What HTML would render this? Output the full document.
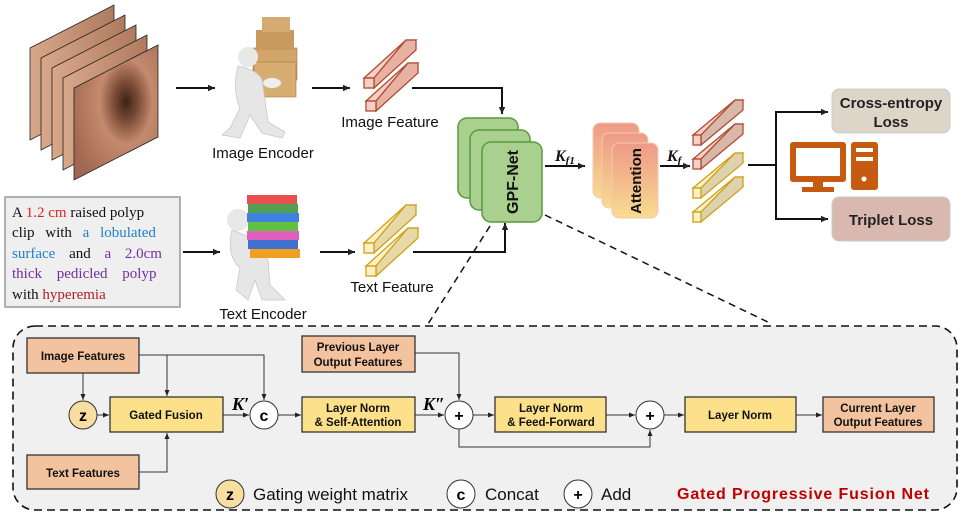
<!DOCTYPE html>
<html><head><meta charset="utf-8"><style>
html,body{margin:0;padding:0;background:#fff;}
svg{display:block;font-family:"Liberation Sans",Arial,sans-serif;}
.bx{stroke:#333;stroke-width:1.3;}
.ln{stroke:#333;stroke-width:1;fill:none;}
.tl{font-weight:bold;font-size:11.5px;fill:#111;text-anchor:middle;}
</style></head><body>
<svg width="970" height="514" viewBox="0 0 970 514" xmlns="http://www.w3.org/2000/svg">
<defs>
<marker id="a" markerWidth="8" markerHeight="8" refX="7" refY="4" orient="auto" markerUnits="userSpaceOnUse"><path d="M0,0.8 L7,4 L0,7.2z" fill="#222"/></marker>
<marker id="s" markerWidth="6" markerHeight="6" refX="6" refY="3" orient="auto" markerUnits="userSpaceOnUse"><path d="M0,0.5 L6,3 L0,5.5z" fill="#222"/></marker>
<radialGradient id="endo" cx="0.62" cy="0.42" r="0.7"><stop offset="0" stop-color="#3a2418"/><stop offset="0.2" stop-color="#7a4a35"/><stop offset="0.45" stop-color="#c48a6e"/><stop offset="1" stop-color="#a06850"/></radialGradient>
<linearGradient id="edge" x1="0" y1="0" x2="1" y2="0"><stop offset="0" stop-color="#d8a88a"/><stop offset="1" stop-color="#b07a5e"/></linearGradient>
<linearGradient id="att" x1="0" y1="0" x2="0" y2="1"><stop offset="0" stop-color="#ee9a88"/><stop offset="1" stop-color="#f8dc90"/></linearGradient>
</defs>

<!-- endoscopy stack -->
<g stroke="#222" stroke-width="0.8">
<polygon points="30,48 114,5 114,97 30,140" fill="url(#edge)"/>
<polygon points="41,58 125,15 125,107 41,150" fill="url(#edge)"/>
<polygon points="52,68 136,25 136,117 52,160" fill="url(#edge)"/>
<polygon points="63,78 147,35 147,127 63,170" fill="url(#edge)"/>
<polygon points="74,88 158,45 158,137 74,180" fill="url(#endo)"/>
</g>

<line x1="176" y1="88" x2="215" y2="88" stroke="#111" stroke-width="2" marker-end="url(#a)"/>

<!-- image encoder figure -->
<g>
<rect x="253" y="48" width="44" height="32" fill="#d2a56a" stroke="#a57a45" stroke-width="0.6"/>
<rect x="256" y="30" width="38" height="20" fill="#c99a5e"/>
<rect x="262" y="17" width="28" height="15" fill="#d4aa70"/>
<rect x="254" y="62" width="42" height="35" fill="#d8ad72" stroke="#a57a45" stroke-width="0.6"/>
<circle cx="248" cy="57" r="10" fill="#e8e8e8"/>
<path d="M238,66 Q232,90 240,108 L230,128 L222,135 L240,138 L250,115 L262,133 L282,138 L285,132 L268,122 L265,100 L262,80 Q258,70 238,66z" fill="#e6e6e6" stroke="#c8c8c8" stroke-width="0.8"/>
<ellipse cx="272" cy="83" rx="9" ry="5" fill="#eee"/>
</g>
<text x="263" y="158" font-size="15" text-anchor="middle" fill="#111">Image Encoder</text>

<line x1="312" y1="88" x2="350" y2="88" stroke="#111" stroke-width="2" marker-end="url(#a)"/>

<g stroke="#b04a30" stroke-width="1.3" fill="#f6d0c4">
<polygon points="364,78 406,40 416,40 374,78"/><polygon points="406,40 416,40 416,50 374,88 374,78" fill="#e8b2a2"/><rect x="364" y="78" width="10" height="10"/>
<polygon points="366,101 408,63 418,63 376,101"/><polygon points="408,63 418,63 418,73 376,111 376,101" fill="#e8b2a2"/><rect x="366" y="101" width="10" height="10"/>
</g>
<text x="390" y="127" font-size="15" text-anchor="middle" fill="#111">Image Feature</text>

<polyline points="412,88 502,88 502,114" fill="none" stroke="#111" stroke-width="2" marker-end="url(#a)"/>

<!-- text box -->
<rect x="5" y="197" width="175" height="110" fill="#efefef" stroke="#999" stroke-width="1.5"/>
<g font-family="Liberation Serif,serif" font-size="15" fill="#111">
<text x="12" y="217">A <tspan fill="#e02020">1.2 cm</tspan> raised polyp</text>
<text x="12" y="237" word-spacing="7">clip with <tspan fill="#2080d0">a lobulated</tspan></text>
<text x="12" y="258" word-spacing="10"><tspan fill="#2080d0">surface</tspan> and <tspan fill="#7030a0">a 2.0cm</tspan></text>
<text x="12" y="278" word-spacing="11" fill="#7030a0">thick pedicled polyp</text>
<text x="12" y="299">with <tspan fill="#b02020">hyperemia</tspan></text>
</g>

<line x1="183" y1="252" x2="220" y2="252" stroke="#111" stroke-width="2" marker-end="url(#a)"/>

<g>
<circle cx="238" cy="220" r="11" fill="#e8e8e8"/>
<path d="M232,230 Q226,255 240,268 L236,290 L248,300 L255,280 L262,300 L285,300 L270,285 L268,260 Q262,240 232,230z" fill="#e6e6e6" stroke="#c8c8c8" stroke-width="0.8"/>
<rect x="247" y="195" width="50" height="9" fill="#e85050"/>
<rect x="248" y="204" width="50" height="9" fill="#50a050"/>
<rect x="247" y="213" width="52" height="9" fill="#4080e0"/>
<rect x="248" y="222" width="50" height="9" fill="#60c040"/>
<rect x="247" y="231" width="52" height="9" fill="#e060c0"/>
<rect x="248" y="240" width="50" height="9" fill="#4070d0"/>
<rect x="250" y="249" width="50" height="9" fill="#f0a020"/>
</g>
<text x="263" y="319" font-size="15" text-anchor="middle" fill="#111">Text Encoder</text>

<line x1="320" y1="252" x2="355" y2="252" stroke="#111" stroke-width="2" marker-end="url(#a)"/>

<g stroke="#d0a010" stroke-width="1.3" fill="#fbf0c8">
<polygon points="364,243 406,205 416,205 374,243"/><polygon points="406,205 416,205 416,215 374,253 374,243" fill="#e6d8a8"/><rect x="364" y="243" width="10" height="10"/>
<polygon points="366,266 408,228 418,228 376,266"/><polygon points="408,228 418,228 418,238 376,276 376,266" fill="#e6d8a8"/><rect x="366" y="266" width="10" height="10"/>
</g>
<text x="392" y="292" font-size="15" text-anchor="middle" fill="#111">Text Feature</text>

<polyline points="413,252 505,252 505,223" fill="none" stroke="#111" stroke-width="2" marker-end="url(#a)"/>

<g fill="#a9d08e" stroke="#5a9a3a" stroke-width="1.5">
<rect x="458" y="118" width="60" height="80" rx="9"/>
<rect x="470" y="130" width="60" height="80" rx="9"/>
<rect x="482" y="142" width="60" height="80" rx="9"/>
</g>
<text transform="translate(518,182) rotate(-90)" font-size="16" font-weight="bold" text-anchor="middle" fill="#111">GPF-Net</text>

<line x1="545" y1="166" x2="585" y2="166" stroke="#111" stroke-width="2" marker-end="url(#a)"/>
<text x="555" y="161" font-family="Liberation Serif,serif" font-style="italic" font-weight="bold" font-size="16" fill="#111">K<tspan font-size="11" dy="3">f1</tspan></text>

<g fill="url(#att)" stroke="#f4c8b0" stroke-width="1">
<rect x="593" y="123" width="46" height="75" rx="7"/>
<rect x="602" y="133" width="46" height="75" rx="7"/>
<rect x="612" y="143" width="46" height="75" rx="7"/>
</g>
<text transform="translate(641,181) rotate(-90)" font-size="15" font-weight="bold" text-anchor="middle" fill="#111">Attention</text>

<line x1="660" y1="166" x2="690" y2="166" stroke="#111" stroke-width="2" marker-end="url(#a)"/>
<text x="667" y="161" font-family="Liberation Serif,serif" font-style="italic" font-weight="bold" font-size="16" fill="#111">K<tspan font-size="11" dy="3">f</tspan></text>

<g stroke="#b04a30" stroke-width="1.3" fill="#f6d0c4">
<polygon points="693,135 735,100 743,100 701,135"/><polygon points="735,100 743,100 743,110 701,145 701,135" fill="#d8b8a8"/><rect x="693" y="135" width="8" height="10"/>
<polygon points="693,159 735,124 743,124 701,159"/><polygon points="735,124 743,124 743,134 701,169 701,159" fill="#d8b8a8"/><rect x="693" y="159" width="8" height="10"/>
</g>
<g stroke="#d0a010" stroke-width="1.3" fill="#fbf0c8">
<polygon points="693,188 735,153 743,153 701,188"/><polygon points="735,153 743,153 743,163 701,198 701,188" fill="#ddd2b0"/><rect x="693" y="188" width="8" height="10"/>
<polygon points="693,212 735,177 743,177 701,212"/><polygon points="735,177 743,177 743,187 701,222 701,212" fill="#ddd2b0"/><rect x="693" y="212" width="8" height="10"/>
</g>

<line x1="748" y1="165" x2="776" y2="165" stroke="#111" stroke-width="2"/>
<polyline points="823,112 776,112 776,219 823,219" fill="none" stroke="#111" stroke-width="2"/>
<line x1="800" y1="112" x2="828" y2="112" stroke="#111" stroke-width="2" marker-end="url(#a)"/>
<line x1="800" y1="219" x2="828" y2="219" stroke="#111" stroke-width="2" marker-end="url(#a)"/>

<rect x="832" y="89" width="118" height="44" rx="7" fill="#ddd5c7" stroke="#ccc" stroke-width="1"/>
<text x="891" y="108" font-size="15" font-weight="bold" text-anchor="middle" fill="#222">Cross-entropy</text>
<text x="891" y="127" font-size="15" font-weight="bold" text-anchor="middle" fill="#222">Loss</text>
<rect x="832" y="197" width="118" height="44" rx="7" fill="#d9b8b0" stroke="#ccc" stroke-width="1"/>
<text x="891" y="225" font-size="15" font-weight="bold" text-anchor="middle" fill="#222">Triplet Loss</text>

<g fill="#c55a11">
<rect x="790" y="142" width="56" height="40" rx="3"/>
<rect x="796" y="148" width="44" height="28" fill="#fff"/>
<rect x="813" y="182" width="10" height="6"/>
<rect x="802" y="187" width="32" height="5"/>
<rect x="851" y="142" width="27" height="48" rx="3"/>
<rect x="856" y="148" width="17" height="4" fill="#fff"/>
<rect x="856" y="157" width="17" height="4" fill="#fff"/>
<circle cx="864" cy="179" r="2.5" fill="#fff"/>
</g>

<line x1="490" y1="226" x2="428" y2="324" stroke="#111" stroke-width="1.5" stroke-dasharray="7,5"/>
<line x1="545" y1="215" x2="772" y2="324" stroke="#111" stroke-width="1.5" stroke-dasharray="7,5"/>

<rect x="13" y="326" width="944" height="184" rx="22" fill="#f0f0f0" stroke="#111" stroke-width="1.6" stroke-dasharray="8,5"/>

<polyline class="ln" points="139,355 264,355 264,400" marker-end="url(#s)"/>
<line class="ln" x1="167" y1="355" x2="167" y2="396" marker-end="url(#s)"/>
<line class="ln" x1="83" y1="373" x2="83" y2="400" marker-end="url(#s)"/>
<line class="ln" x1="97" y1="415" x2="109" y2="415" marker-end="url(#s)"/>
<polyline class="ln" points="139,472 167,472 167,433" marker-end="url(#s)"/>
<line class="ln" x1="223" y1="415" x2="249" y2="415" marker-end="url(#s)"/>
<line class="ln" x1="278" y1="415" x2="301" y2="415" marker-end="url(#s)"/>
<line class="ln" x1="415" y1="415" x2="444" y2="415" marker-end="url(#s)"/>
<polyline class="ln" points="415,353 459,353 459,400" marker-end="url(#s)"/>
<line class="ln" x1="473" y1="415" x2="494" y2="415" marker-end="url(#s)"/>
<line class="ln" x1="606" y1="415" x2="635" y2="415" marker-end="url(#s)"/>
<polyline class="ln" points="459,429 459,447 650,447 650,430" marker-end="url(#s)"/>
<line class="ln" x1="664" y1="415" x2="684" y2="415" marker-end="url(#s)"/>
<line class="ln" x1="796" y1="415" x2="822" y2="415" marker-end="url(#s)"/>

<rect class="bx" x="27" y="338" width="112" height="35" fill="#f3c29e"/>
<text class="tl" x="83" y="360">Image Features</text>
<rect class="bx" x="27" y="455" width="112" height="34" fill="#f3c29e"/>
<text class="tl" x="83" y="477">Text Features</text>
<rect class="bx" x="302" y="336" width="113" height="36" fill="#f3c29e"/>
<text class="tl" x="358" y="351">Previous Layer</text>
<text class="tl" x="358" y="366">Output Features</text>
<rect class="bx" x="110" y="397" width="113" height="35" fill="#fde08a"/>
<text class="tl" x="166" y="419">Gated Fusion</text>
<rect class="bx" x="302" y="397" width="113" height="35" fill="#fde08a"/>
<text class="tl" x="358" y="412">Layer Norm</text>
<text class="tl" x="358" y="426">&amp; Self-Attention</text>
<rect class="bx" x="495" y="397" width="111" height="35" fill="#fde08a"/>
<text class="tl" x="551" y="412">Layer Norm</text>
<text class="tl" x="551" y="426">&amp; Feed-Forward</text>
<rect class="bx" x="685" y="397" width="111" height="35" fill="#fde08a"/>
<text class="tl" x="740" y="419">Layer Norm</text>
<rect class="bx" x="823" y="397" width="111" height="35" fill="#f3c29e"/>
<text class="tl" x="878" y="412">Current Layer</text>
<text class="tl" x="878" y="426">Output Features</text>

<circle cx="83" cy="415" r="14" fill="#f8dea0" stroke="#333" stroke-width="1"/>
<text x="83" y="421" font-size="16" font-weight="bold" text-anchor="middle">z</text>
<circle cx="264" cy="415" r="14" fill="#fff" stroke="#333" stroke-width="1"/>
<text x="264" y="421" font-size="16" font-weight="bold" text-anchor="middle">c</text>
<circle cx="459" cy="415" r="14" fill="#fff" stroke="#333" stroke-width="1"/>
<text x="459" y="421" font-size="16" font-weight="bold" text-anchor="middle">+</text>
<circle cx="650" cy="415" r="14" fill="#fff" stroke="#333" stroke-width="1"/>
<text x="650" y="421" font-size="16" font-weight="bold" text-anchor="middle">+</text>

<text x="232" y="410" font-family="Liberation Serif,serif" font-style="italic" font-weight="bold" font-size="18">K′</text>
<text x="423" y="410" font-family="Liberation Serif,serif" font-style="italic" font-weight="bold" font-size="18">K″</text>

<circle cx="230" cy="494" r="14" fill="#f8dea0" stroke="#333" stroke-width="1"/>
<text x="230" y="500" font-size="16" font-weight="bold" text-anchor="middle">z</text>
<text x="253" y="500" font-size="17" fill="#111">Gating weight matrix</text>
<circle cx="461" cy="494" r="14" fill="#fff" stroke="#333" stroke-width="1"/>
<text x="461" y="500" font-size="16" font-weight="bold" text-anchor="middle">c</text>
<text x="485" y="500" font-size="17" fill="#111">Concat</text>
<circle cx="578" cy="494" r="14" fill="#fff" stroke="#333" stroke-width="1"/>
<text x="578" y="500" font-size="16" font-weight="bold" text-anchor="middle">+</text>
<text x="601" y="500" font-size="17" fill="#111">Add</text>
<text x="677" y="499" font-size="16" font-weight="bold" fill="#c00000" textLength="252">Gated Progressive Fusion Net</text>
</svg>
</body></html>
